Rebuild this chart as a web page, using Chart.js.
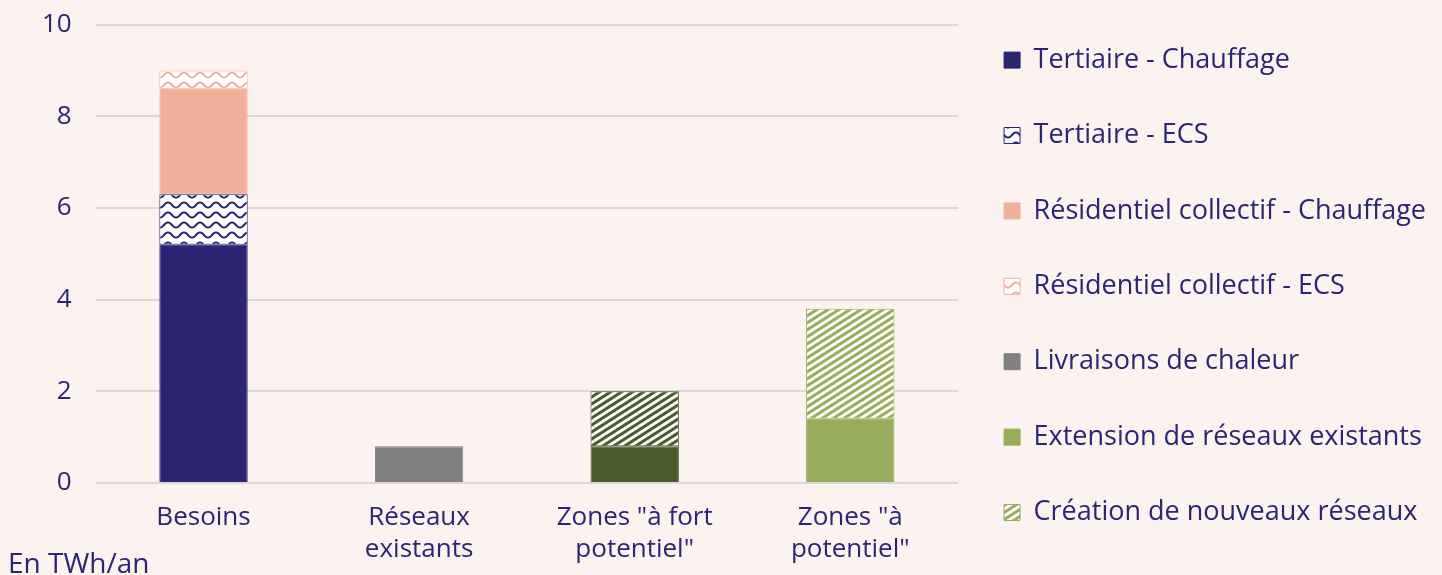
<!DOCTYPE html>
<html>
<head>
<meta charset="utf-8">
<script src="https://cdn.jsdelivr.net/npm/chart.js@4.4.1/dist/chart.umd.min.js"></script>
<style>
  html, body { margin: 0; padding: 0; background: #fcf2f0; }
  #wrap { position: relative; width: 1442px; height: 575px; }
  #note { position: absolute; left: 8px; top: 546px; font-family: "Open Sans", sans-serif; font-size: 28px; line-height: 32px; color: #2a2672; }
</style>
</head>
<body>
<div id="wrap">
  <canvas id="c" width="1442" height="575"></canvas>
  <div id="note">En TWh/an</div>
</div>
<script>
const categories = ["Besoins", ["Réseaux", "existants"], ['Zones "à fort', 'potentiel"'], ['Zones "à', 'potentiel"']];
const seriesNames = ["Tertiaire - Chauffage", "Tertiaire - ECS", "Résidentiel collectif - Chauffage", "Résidentiel collectif - ECS", "Livraisons de chaleur", "Extension de réseaux existants", "Création de nouveaux réseaux"];
const tertiaireChauffage = [5.2, 0, 0, 0];
const tertiaireECS = [1.1, 0, 0, 0];
const residentielChauffage = [2.3, 0, 0, 0];
const residentielECS = [0.4, 0, 0, 0];
const livraisons = [0, 0.8, 0, 0];
const extension = [0, 0, 0.8, 1.4];
const creation = [0, 0, 1.2, 2.4];
const yTicks = [0, 2, 4, 6, 8, 10];

const NAVY = "#2a2471", SALMON = "#f0b09b", GREY = "#808080", DKGREEN = "#4b5a2b", LTGREEN = "#97ad5b";
const TEXT = "#2a2672";
const FONT = "'Open Sans'";

function wavePattern(color) {
  const c = document.createElement("canvas");
  c.width = 16; c.height = 10;
  const g = c.getContext("2d");
  g.fillStyle = "#ffffff"; g.fillRect(0, 0, 16, 10);
  g.strokeStyle = color; g.lineWidth = 2;
  g.beginPath();
  for (let x = -1; x <= 17; x += 0.5) {
    const y = 5 + 2.6 * Math.cos((x / 16) * 2 * Math.PI);
    if (x === -1) g.moveTo(x, y); else g.lineTo(x, y);
  }
  g.stroke();
  return g.createPattern(c, "repeat");
}
function stripePattern(color) {
  const W = 11, H = 7;
  const c = document.createElement("canvas");
  c.width = W; c.height = H;
  const g = c.getContext("2d");
  g.fillStyle = color; g.fillRect(0, 0, W, H);
  g.strokeStyle = "#ffffff"; g.lineWidth = 2.9;
  for (const dy of [-H, 0, H]) {
    for (const dx of [-W, 0, W]) {
      g.beginPath(); g.moveTo(dx, H + dy); g.lineTo(dx + W, dy); g.stroke();
    }
  }
  return g.createPattern(c, "repeat");
}

const values = [tertiaireChauffage, tertiaireECS, residentielChauffage, residentielECS, livraisons, extension, creation];
const fills = [NAVY, wavePattern(NAVY), SALMON, wavePattern(SALMON), GREY, LTGREEN, stripePattern(LTGREEN)];
const borders = [NAVY, NAVY, SALMON, SALMON, GREY, LTGREEN, LTGREEN];
const fillsPerBar = values.map((v, i) => {
  if (i === 5) return [LTGREEN, LTGREEN, DKGREEN, LTGREEN];
  if (i === 6) return [stripePattern(LTGREEN), stripePattern(LTGREEN), stripePattern(DKGREEN), stripePattern(LTGREEN)];
  return fills[i];
});
const bordersPerBar = values.map((v, i) => {
  if (i === 5 || i === 6) return [LTGREEN, LTGREEN, DKGREEN, LTGREEN];
  return borders[i];
});

const datasets = seriesNames.map((name, i) => ({
  label: name,
  data: values[i],
  backgroundColor: fillsPerBar[i],
  borderColor: bordersPerBar[i],
  borderWidth: 1,
  borderSkipped: false,
  barPercentage: 0.41,
  categoryPercentage: 1.0
}));

new Chart(document.getElementById("c"), {
  type: "bar",
  data: { labels: categories, datasets },
  options: {
    responsive: false,
    animation: false,
    layout: { padding: { left: 33, right: 6, top: 0, bottom: 0 } },
    plugins: {
      tooltip: { enabled: false },
      legend: {
        position: "right",
        align: "center",
        maxWidth: 600,
        labels: {
          color: TEXT,
          font: { family: FONT, size: 27, lineHeight: 29.4 / 27 },
          boxWidth: 16,
          boxHeight: 16,
          padding: 46,
          generateLabels(chart) {
            return chart.data.datasets.map((ds, i) => ({
              text: [ds.label],
              fillStyle: fills[i],
              strokeStyle: borders[i],
              lineWidth: 1,
              fontColor: TEXT,
              datasetIndex: i,
              hidden: false
            }));
          }
        }
      }
    },
    scales: {
      x: {
        stacked: true,
        grid: { display: true, drawOnChartArea: false, drawTicks: true, tickLength: 10, tickColor: "rgba(0,0,0,0)", color: "rgba(0,0,0,0)" },
        border: { display: false },
        ticks: { color: TEXT, font: { family: FONT, size: 26, lineHeight: 32 / 26 }, padding: 9, maxRotation: 0 }
      },
      y: {
        stacked: true,
        min: 0, max: 10,
        afterBuildTicks(axis) { axis.ticks = yTicks.map(v => ({ value: v })); },
        grid: { color: "#dcd8d8", lineWidth: 2, drawTicks: true, tickLength: 15, tickColor: "rgba(0,0,0,0)" },
        border: { display: false },
        ticks: { color: TEXT, font: { family: FONT, size: 26 }, padding: 9 }
      }
    }
  }
});
</script>
</body>
</html>
